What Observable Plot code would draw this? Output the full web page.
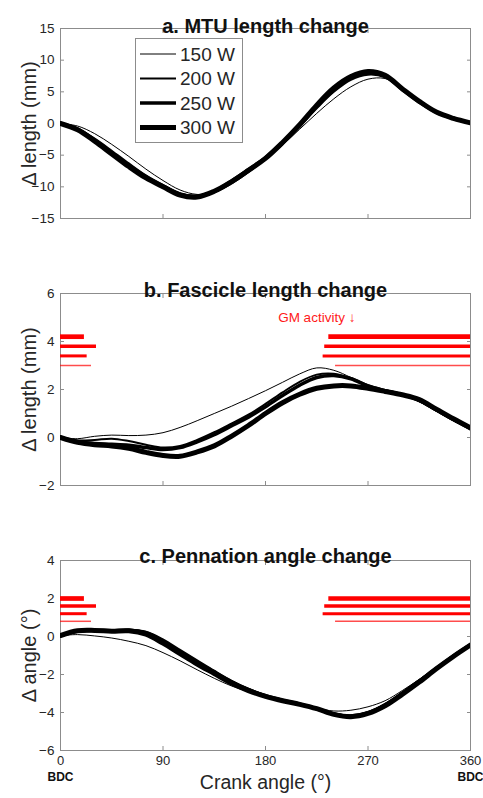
<!DOCTYPE html>
<html><head><meta charset="utf-8">
<script src="https://cdn.jsdelivr.net/npm/d3@7"></script>
<script src="https://cdn.jsdelivr.net/npm/@observablehq/plot@0.6"></script>
<style>
body{margin:0;background:#fff;}
#chart{position:relative;width:483px;height:798px;font-family:"Liberation Sans",Arial,Helvetica,sans-serif;}
#chart svg{display:block;}
#legend{position:absolute;left:135px;top:38px;}
</style></head><body><div id="chart"></div>
<script>
// ---- data ----
const powers = ["150 W", "200 W", "250 W", "300 W"];
const angles = [0,15,30,45,60,75,90,105,120,135,150,165,180,195,210,225,240,255,270,285,300,315,330,345,360];

// a. MTU length change (mm)
const mtu150 = [0,-0.4,-1.6,-3.3,-5.2,-7.2,-9.0,-10.5,-11.2,-10.9,-9.6,-7.8,-5.7,-3.4,-0.9,1.6,3.9,5.8,7.0,7.1,5.7,3.6,1.9,0.9,0.1];
const mtu200 = [0,-0.8,-2.4,-4.3,-6.3,-8.2,-9.7,-11.0,-11.4,-10.8,-9.3,-7.5,-5.6,-3.2,-0.5,2.4,5.0,6.9,7.7,7.3,5.4,3.4,1.8,0.8,0.1];
const mtu250 = [0,-0.9,-2.6,-4.6,-6.6,-8.4,-9.9,-11.2,-11.5,-10.7,-9.1,-7.3,-5.4,-3.0,-0.3,2.7,5.3,7.2,8.0,7.5,5.4,3.4,1.8,0.8,0.1];
const mtu300 = [0,-1.0,-2.8,-4.8,-6.8,-8.6,-10.0,-11.3,-11.6,-10.7,-9.2,-7.4,-5.5,-3.0,-0.2,2.9,5.6,7.4,8.2,7.6,5.5,3.5,1.8,0.8,0.1];

// b. Fascicle length change (mm)
const fas150 = [0,-0.05,0.05,0.1,0.08,0.1,0.2,0.42,0.7,1.0,1.3,1.62,1.95,2.3,2.65,2.9,2.8,2.5,2.15,1.95,1.75,1.5,1.1,0.7,0.3];
const fas200 = [0,-0.12,-0.1,-0.05,-0.15,-0.3,-0.42,-0.35,-0.1,0.22,0.58,0.95,1.4,1.88,2.32,2.62,2.66,2.48,2.18,1.98,1.8,1.52,1.12,0.72,0.35];
const fas250 = [0,-0.18,-0.25,-0.28,-0.32,-0.42,-0.5,-0.42,-0.18,0.12,0.48,0.85,1.28,1.75,2.18,2.5,2.58,2.45,2.15,1.95,1.78,1.55,1.15,0.75,0.4];
const fas300 = [0,-0.2,-0.3,-0.35,-0.45,-0.62,-0.75,-0.78,-0.6,-0.35,0.05,0.5,1.0,1.45,1.8,2.05,2.15,2.15,2.05,1.92,1.78,1.58,1.18,0.78,0.4];

// c. Pennation angle change (deg)
const pen150 = [0.05,0.1,0.03,-0.08,-0.25,-0.48,-0.85,-1.28,-1.75,-2.2,-2.6,-2.9,-3.12,-3.33,-3.55,-3.78,-3.92,-3.88,-3.7,-3.38,-2.85,-2.25,-1.65,-1.05,-0.45];
const pen200 = [0.05,0.25,0.3,0.3,0.35,0.25,-0.15,-0.7,-1.25,-1.8,-2.32,-2.75,-3.1,-3.35,-3.55,-3.78,-4.05,-4.15,-3.98,-3.55,-2.95,-2.3,-1.65,-1.0,-0.42];
const pen250 = [0.05,0.28,0.32,0.3,0.33,0.2,-0.25,-0.8,-1.35,-1.87,-2.38,-2.8,-3.12,-3.36,-3.56,-3.8,-4.08,-4.2,-4.02,-3.6,-3.0,-2.35,-1.68,-1.02,-0.43];
const pen300 = [0.05,0.3,0.32,0.28,0.3,0.12,-0.35,-0.9,-1.45,-1.95,-2.45,-2.85,-3.15,-3.38,-3.57,-3.8,-4.1,-4.22,-4.05,-3.65,-3.05,-2.4,-1.7,-1.05,-0.45];

// GM activity (crank angle, deg): onset and offset per power
const gmOnset  = [241.5, 230.6, 232, 235.6];
const gmOffset = [27.2, 23.4, 31.6, 21];
const barLevelsB = [3.0, 3.4, 3.8, 4.2];
const barLevelsC = [0.8, 1.2, 1.6, 2.0];
const gmNote = [{angle: 225, value: 5.0, text: "GM activity ↓"}];

const xTicks = [0, 90, 180, 270, 360];
const bdcTicks = [0, 360];
const yTicksA = [-15, -10, -5, 0, 5, 10, 15];
const yTicksB = [-2, 0, 2, 4, 6];
const yTicksC = [-6, -4, -2, 0, 2, 4];

// ---- styles ----
const lineWidth = {"150 W": 1, "200 W": 2, "250 W": 3.5, "300 W": 5};
const barWidth = {"150 W": 1.5, "200 W": 3, "250 W": 3.5, "300 W": 4.7};
const barOpacity = {"150 W": 0.7, "200 W": 1, "250 W": 1, "300 W": 1};
const FONT = '"Liberation Sans", Arial, Helvetica, sans-serif';

function tidy(series) {
  const rows = [];
  // draw thickest first so thinner lines stay visible
  for (let s = series.length - 1; s >= 0; s--) {
    series[s].forEach((v, i) => rows.push({power: powers[s], angle: angles[i], value: v}));
  }
  return rows;
}
function barRows(levels) {
  const rows = [];
  powers.forEach((p, i) => {
    rows.push({power: p, level: levels[i], from: gmOnset[i], to: 360});
    rows.push({power: p, level: levels[i], from: 0, to: gmOffset[i]});
  });
  return rows;
}

function panel({title, rows, yDomain, yTicks, yLabel, height, marginTop, marginBottom, bars, note, bottomLabels, titleDy}) {
  const marks = [
    Plot.frame({stroke: "#8c8c8c"}),
    Plot.axisX({anchor: "bottom", ticks: xTicks, tickSize: -4, fill: "none", stroke: "#8c8c8c", label: null}),
    Plot.axisX({anchor: "top", ticks: xTicks, tickSize: -4, fill: "none", stroke: "#8c8c8c", label: null}),
    Plot.axisY({anchor: "left", ticks: yTicks, tickSize: -4, fill: "none", stroke: "#8c8c8c", label: null}),
    Plot.axisY({anchor: "right", ticks: yTicks, tickSize: -4, fill: "none", stroke: "#8c8c8c", label: null}),
    Plot.axisY({anchor: "left", ticks: yTicks, tickSize: 0, tickPadding: 6, fill: "#262626", fontSize: 13.5, label: null}),
    Plot.text([title], {frameAnchor: "top", dy: titleDy, fontWeight: "bold", fontSize: 20, fill: "#111"}),
    Plot.text([yLabel], {frameAnchor: "left", textAnchor: "middle", dx: -31, rotate: -90, fontSize: 20, fill: "#262626"})
  ];
  if (bars) {
    marks.push(Plot.ruleY(bars, {y: "level", x1: "from", x2: "to", stroke: "#ff0000",
      strokeWidth: d => barWidth[d.power], strokeOpacity: d => barOpacity[d.power]}));
  }
  if (note) {
    marks.push(Plot.text(note, {x: "angle", y: "value", text: "text", fill: "#ff1a1a", fontSize: 13.5}));
  }
  marks.push(Plot.line(rows, {x: "angle", y: "value", z: "power", stroke: "#000",
    strokeWidth: d => lineWidth[d.power], curve: "catmull-rom", clip: true}));
  if (bottomLabels) {
    marks.push(Plot.axisX({anchor: "bottom", ticks: xTicks, tickSize: 0, tickPadding: 5, fill: "#262626", fontSize: 13, label: null}));
    marks.push(Plot.text(bdcTicks, {x: d => d, frameAnchor: "bottom", dy: 30, text: () => "BDC", fontWeight: "bold", fontSize: 12, fill: "#111"}));
    marks.push(Plot.text(["Crank angle (°)"], {frameAnchor: "bottom", dy: 38, fontSize: 19.5, fill: "#262626"}));
  }
  return Plot.plot({
    width: 483, height, marginLeft: 60, marginRight: 13, marginTop, marginBottom,
    style: {fontFamily: FONT, background: "white", color: "#262626"},
    x: {domain: [0, 360]},
    y: {domain: yDomain},
    marks
  });
}

const chart = document.getElementById("chart");
chart.append(panel({
  title: "a. MTU length change", rows: tidy([mtu150, mtu200, mtu250, mtu300]),
  yDomain: [-15, 15], yTicks: yTicksA, yLabel: "Δ length (mm)",
  height: 240, marginTop: 28, marginBottom: 22, titleDy: -10
}));
chart.append(panel({
  title: "b. Fascicle length change", rows: tidy([fas150, fas200, fas250, fas300]),
  yDomain: [-2, 6], yTicks: yTicksB, yLabel: "Δ length (mm)",
  height: 260, marginTop: 53, marginBottom: 15, bars: barRows(barLevelsB), note: gmNote, titleDy: -11
}));
chart.append(panel({
  title: "c. Pennation angle change", rows: tidy([pen150, pen200, pen250, pen300]),
  yDomain: [-6, 4], yTicks: yTicksC, yLabel: "Δ angle (°)",
  height: 298, marginTop: 60, marginBottom: 48, bars: barRows(barLevelsC), bottomLabels: true, titleDy: -12
}));

// legend (panel a)
const lg = d3.create("svg").attr("id", "legend").attr("width", 108).attr("height", 105);
lg.append("rect").attr("x", 0.5).attr("y", 0.5).attr("width", 107).attr("height", 104)
  .attr("fill", "white").attr("stroke", "#8c8c8c");
powers.forEach((p, i) => {
  const y = 16 + i * 24.5;
  lg.append("line").attr("x1", 5).attr("x2", 41).attr("y1", y).attr("y2", y)
    .attr("stroke", "#000").attr("stroke-width", lineWidth[p]);
  lg.append("text").attr("x", 45).attr("y", y).attr("dy", "0.35em")
    .attr("font-size", 19).attr("font-family", FONT).attr("fill", "#262626").text(p);
});
chart.append(lg.node());
</script></body></html>
